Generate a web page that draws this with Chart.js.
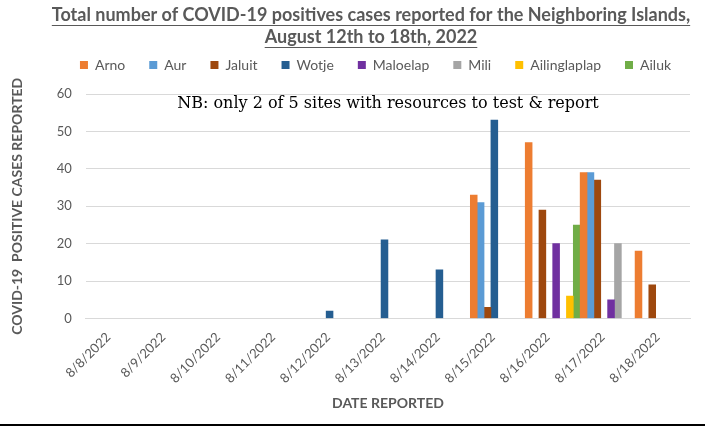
<!DOCTYPE html>
<html>
<head>
<meta charset="utf-8">
<script src="https://cdn.jsdelivr.net/npm/chart.js@4/dist/chart.umd.min.js"></script>
<style>
  html, body { margin: 0; padding: 0; background: #fff; }
  #wrap { width: 705px; height: 432px; position: relative; }
</style>
</head>
<body>
<div id="wrap"><canvas id="bar-chart"></canvas></div>
<script>
// DATA
const dates = ['8/8/2022', '8/9/2022', '8/10/2022', '8/11/2022', '8/12/2022', '8/13/2022',
               '8/14/2022', '8/15/2022', '8/16/2022', '8/17/2022', '8/18/2022'];
const arno         = [null, null, null, null, null, null, null, 33, 47, 39, 18];
const aur          = [null, null, null, null, null, null, null, 31, null, 39, null];
const jaluit       = [null, null, null, null, null, null, null, 3, 29, 37, 9];
const wotje        = [null, null, null, null, 2, 21, 13, 53, null, null, null];
const maloelap     = [null, null, null, null, null, null, null, null, 20, 5, null];
const mili         = [null, null, null, null, null, null, null, null, null, 20, null];
const ailinglaplap = [null, null, null, null, null, null, null, null, 6, null, null];
const ailuk        = [null, null, null, null, null, null, null, null, 25, null, null];

const titleLines = ['Total number of COVID-19 positives cases reported for the Neighboring Islands,',
                    'August 12th to 18th, 2022'];
const noteText = 'NB: only 2 of 5 sites with resources to test & report';

const grey = '#595959';

// push the plot down a bit under the legend, and nudge legend to the right
const legendMargin = {
    id: 'legendMargin',
    beforeInit(chart) {
        const fit = chart.legend.fit;
        chart.legend.fit = function() {
            fit.bind(chart.legend)();
            this.height += 12;
        };
    },
    afterLayout(chart) {
        chart.legend.left += 26;
        chart.legend.right += 26;
    }
};

// title, note and frame line
const textPlugin = {
    id: 'textPlugin',
    afterDraw(chart) {
        const c = chart.ctx;
        c.save();
        c.fillStyle = grey;
        c.strokeStyle = grey;
        c.font = 'bold 18px Lato';
        c.textAlign = 'center';
        c.textBaseline = 'middle';
        const cx = 371;
        titleLines.forEach(function(t, i) {
            const y = 15 + i * 22;
            c.fillText(t, cx, y);
            const w = c.measureText(t).width;
            c.lineWidth = 1;
            c.beginPath();
            c.moveTo(cx - w / 2, y + 10.5);
            c.lineTo(cx + w / 2, y + 10.5);
            c.stroke();
        });

        // note inside plot
        c.fillStyle = '#000';
        c.font = '16px "DejaVu Serif"';
        c.fillText(noteText, 388, 104);

        // bottom frame line
        c.strokeStyle = '#000';
        c.lineWidth = 2;
        c.beginPath();
        c.moveTo(0, 425);
        c.lineTo(705, 425);
        c.stroke();
        c.restore();
    }
};

function ds(label, data, color) {
    return { label: label, data: data, backgroundColor: color, borderWidth: 0 };
}

const chart = new Chart(
    document.querySelector('#bar-chart'), {
        type: 'bar',
        data: {
            labels: dates,
            datasets: [
                ds('Arno', arno, '#ED7D31'),
                ds('Aur', aur, '#5B9BD5'),
                ds('Jaluit', jaluit, '#9E480E'),
                ds('Wotje', wotje, '#255E91'),
                ds('Maloelap', maloelap, '#7030A0'),
                ds('Mili', mili, '#A5A5A5'),
                ds('Ailinglaplap', ailinglaplap, '#FFC000'),
                ds('Ailuk', ailuk, '#70AD47')
            ]
        },
        options: {
            responsive: true,
            maintainAspectRatio: false,
            animation: false,
            devicePixelRatio: 1,
            datasets: {
                bar: { categoryPercentage: 1, barPercentage: 1 }
            },
            layout: {
                padding: { top: 34, left: 9, right: 15, bottom: 20 }
            },
            plugins: {
                legend: {
                    display: true,
                    position: 'top',
                    align: 'center',
                    labels: {
                        boxWidth: 8,
                        boxHeight: 8,
                        padding: 24,
                        color: grey,
                        font: { family: 'Lato', size: 14 }
                    }
                },
                tooltip: { enabled: false }
            },
            scales: {
                x: {
                    grid: { display: false },
                    border: { color: '#D9D9D9', width: 1 },
                    ticks: {
                        color: grey,
                        font: { family: 'Lato', size: 13 },
                        minRotation: 45,
                        maxRotation: 45,
                        autoSkip: false,
                        labelOffset: -5
                    },
                    title: {
                        display: true,
                        text: 'DATE REPORTED',
                        color: grey,
                        font: { family: 'Lato', size: 14, weight: 'bold' },
                        padding: { top: 6, bottom: 0 }
                    }
                },
                y: {
                    min: 0,
                    max: 60,
                    ticks: {
                        stepSize: 10,
                        color: grey,
                        font: { family: 'Lato', size: 13 },
                        padding: 14
                    },
                    grid: { color: '#D9D9D9', drawTicks: false },
                    border: { display: false },
                    title: {
                        display: true,
                        text: 'COVID-19  POSITIVE CASES REPORTED',
                        color: grey,
                        font: { family: 'Lato', size: 14, weight: 'bold' },
                        padding: { top: 0, bottom: 17 }
                    }
                }
            }
        },
        plugins: [legendMargin, textPlugin]
    }
)
</script>
</body>
</html>
